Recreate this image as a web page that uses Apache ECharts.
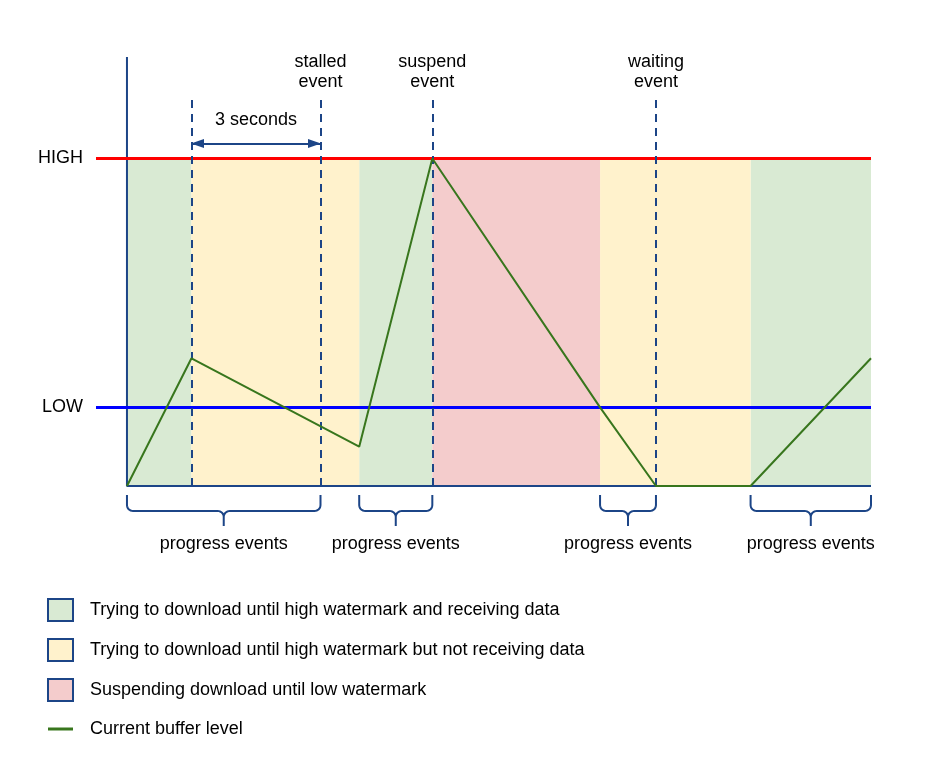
<!DOCTYPE html>
<html><head><meta charset="utf-8">
<script src="https://cdn.jsdelivr.net/npm/echarts@6/dist/echarts.min.js"></script>
<style>html,body{margin:0;padding:0;background:#fff}#c{width:946px;height:775px}</style>
</head><body><div id="c"></div>
<script>
// ---- data ----
const HIGH = 100;
const LOW = 24;
const bufferTime = [0, 1.5, 5.4, 7.1, 11.0, 12.3, 14.5, 17.3];
const bufferLevel = [0, 39, 12, 100, 24, 0, 0, 39];
const receivingRanges = [[0, 1.5], [5.4, 7.1], [14.5, 17.3]];
const notReceivingRanges = [[1.5, 5.4], [11.0, 14.5]];
const suspendRanges = [[7.1, 11.0]];
const progressRanges = [[0, 4.5], [5.4, 7.1], [11.0, 12.3], [14.5, 17.3]];
const progressLabel = 'progress events';
const eventTimes = [1.5, 4.5, 7.1, 12.3];
const eventLabels = ['', 'stalled\nevent', 'suspend\nevent', 'waiting\nevent'];
const stallWindow = [1.5, 4.5];
const stallLabel = '3 seconds';
const legendNames = [
  'Trying to download until high watermark and receiving data',
  'Trying to download until high watermark but not receiving data',
  'Suspending download until low watermark',
  'Current buffer level'
];
const T_MIN = -0.72, T_END = 17.3, Y_MAX = 131, EVENT_TOP = 118, ARROW_Y = 104.6;

// ---- chart ----
const FONT = 'Liberation Sans, Arial, sans-serif';
const FS = 18;
const AXIS_BLUE = '#1c4587';
const chart = echarts.init(document.getElementById('c'));

function regionRender(params, api) {
  const a = api.coord([api.value(0), HIGH]);
  const b = api.coord([api.value(1), 0]);
  return {
    type: 'rect',
    shape: { x: a[0], y: a[1], width: b[0] - a[0], height: b[1] - a[1] },
    style: { fill: api.visual('color') }
  };
}

function braceRender(params, api) {
  const p0 = api.coord([api.value(0), 0]);
  const p1 = api.coord([api.value(1), 0]);
  const x0 = p0[0], x1 = p1[0], y = p0[1];
  const cx = (x0 + x1) / 2;
  const top = y + 9, mid = y + 25, tip = y + 40, r = 6;
  const pts = [[x0, top]];
  const N = 8;
  for (let i = 0; i <= N; i++) { const t = i / N * Math.PI / 2; pts.push([x0 + r - r * Math.cos(t), mid - r + r * Math.sin(t)]); }
  for (let i = 0; i <= N; i++) { const t = Math.PI / 2 - i / N * Math.PI / 2; pts.push([cx - r + r * Math.cos(t), mid + r - r * Math.sin(t)]); }
  pts.push([cx, tip]);
  pts.push([cx, mid + r]);
  for (let i = 0; i <= N; i++) { const t = i / N * Math.PI / 2; pts.push([cx + r - r * Math.cos(t), mid + r - r * Math.sin(t)]); }
  for (let i = 0; i <= N; i++) { const t = i / N * Math.PI / 2; pts.push([x1 - r + r * Math.sin(t), mid - r + r * Math.cos(t)]); }
  pts.push([x1, top]);
  return {
    type: 'group',
    children: [
      { type: 'polyline', shape: { points: pts }, style: { stroke: AXIS_BLUE, lineWidth: 2, fill: null } },
      { type: 'text', style: { text: progressLabel, x: cx, y: y + 58, align: 'center', verticalAlign: 'middle', fill: '#000', font: FS + 'px ' + FONT } }
    ]
  };
}

const eventLines = eventTimes.map((t, i) => [
  { coord: [t, 0], lineStyle: { color: AXIS_BLUE, width: 2, type: [8, 6] } },
  {
    coord: [t, EVENT_TOP],
    label: eventLabels[i] ? { show: true, position: 'end', formatter: eventLabels[i], distance: 8, lineHeight: 20, fontSize: FS, color: '#000', fontFamily: FONT } : { show: false }
  }
]);

const levelLines = [
  { yAxis: HIGH, lineStyle: { color: '#ff0000', width: 3, type: 'solid' },
    label: { show: true, position: 'start', formatter: 'HIGH', distance: 13, fontSize: FS, color: '#000', fontFamily: FONT } },
  { yAxis: LOW, lineStyle: { color: '#0000ff', width: 3, type: 'solid' },
    label: { show: true, position: 'start', formatter: 'LOW', distance: 13, fontSize: FS, color: '#000', fontFamily: FONT } }
];

const arrowLine = [[
  { coord: [stallWindow[0], ARROW_Y], symbol: 'triangle', symbolSize: [9, 13], symbolOffset: [0, 6],
    lineStyle: { color: AXIS_BLUE, width: 2, type: 'solid' },
    label: { show: true, position: 'insideMiddleTop', formatter: stallLabel, distance: 14, fontSize: FS, color: '#000', fontFamily: FONT } },
  { coord: [stallWindow[1], ARROW_Y], symbol: 'triangle', symbolSize: [9, 13], symbolOffset: [0, 6] }
]];

const option = {
  animation: false,
  textStyle: { fontFamily: FONT },
  grid: { left: 96, right: 75, top: 57, bottom: 289 },
  xAxis: { type: 'value', min: T_MIN, max: T_END, show: false },
  yAxis: { type: 'value', min: 0, max: Y_MAX, show: false },
  legend: {
    orient: 'vertical', left: 47, top: 598, padding: 0,
    itemWidth: 25, itemHeight: 22, itemGap: 16,
    textStyle: { fontSize: FS, color: '#000', fontFamily: FONT, lineHeight: 22, padding: [0, 0, 0, 12] },
    selectedMode: false,
    data: [
      { name: legendNames[0], icon: 'rect', itemStyle: { borderColor: AXIS_BLUE, borderWidth: 2 } },
      { name: legendNames[1], icon: 'rect', itemStyle: { borderColor: AXIS_BLUE, borderWidth: 2 } },
      { name: legendNames[2], icon: 'rect', itemStyle: { borderColor: AXIS_BLUE, borderWidth: 2 } },
      { name: legendNames[3], icon: 'path://M0,0M0,9.5L25,9.5L25,12.5L0,12.5ZM25,22', itemStyle: { color: '#38761d', borderWidth: 0 } }
    ]
  },
  series: [
    { name: legendNames[0], type: 'custom', renderItem: regionRender, data: receivingRanges, encode: { x: [0, 1] }, itemStyle: { color: '#d9ead3' }, z: 1, silent: true },
    { name: legendNames[1], type: 'custom', renderItem: regionRender, data: notReceivingRanges, encode: { x: [0, 1] }, itemStyle: { color: '#fff2cc' }, z: 1, silent: true },
    { name: legendNames[2], type: 'custom', renderItem: regionRender, data: suspendRanges, encode: { x: [0, 1] }, itemStyle: { color: '#f4cccc' }, z: 1, silent: true },
    {
      name: 'frame', type: 'line', symbol: 'none', clip: false, silent: true, z: 3,
      data: [[0, Y_MAX], [0, 0], [T_END, 0]],
      lineStyle: { color: AXIS_BLUE, width: 2 },
      markLine: { silent: true, symbol: 'none', animation: false, label: { show: false },
        data: levelLines.concat(eventLines).concat(arrowLine) }
    },
    {
      name: legendNames[3], type: 'line', symbol: 'none', clip: false, silent: true, z: 10,
      data: bufferTime.map((t, i) => [t, bufferLevel[i]]),
      itemStyle: { color: '#38761d' },
      lineStyle: { color: '#38761d', width: 2 }
    },
    { name: 'braces', type: 'custom', renderItem: braceRender, data: progressRanges, encode: { x: [0, 1] }, z: 4, silent: true }
  ]
};
chart.setOption(option);
</script>
</body></html>
